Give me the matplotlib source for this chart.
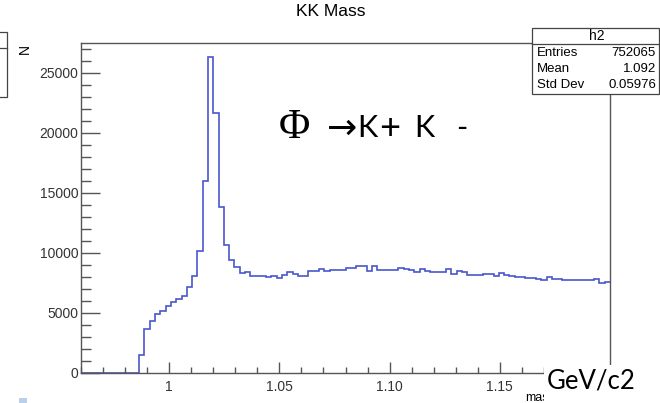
import numpy as np
import matplotlib
matplotlib.use("Agg")
import matplotlib.pyplot as plt
from matplotlib.patches import Rectangle
from matplotlib.ticker import MultipleLocator

# histogram h2: 100 bins between 0.96 and 1.20
x_min, x_max, n_bins = 0.96, 1.20, 100
counts = [0] * 11 + [
    1500, 3650, 4350, 4950, 5150, 5550, 5950, 6150, 6400, 7150,
    8100, 10200, 16000, 26300, 21700, 13800, 10650, 9450, 8850, 8350,
    8400, 8050, 8100,
    8100, 7960, 8050, 7910, 8190, 8380, 8270, 8100, 8100, 8470,
    8470, 8660, 8470, 8550, 8610, 8610, 8750, 8750, 8880, 8880,
    8470, 8880, 8610, 8610, 8550, 8550, 8750, 8660, 8610, 8420,
    8660, 8470, 8420, 8420, 8420, 8660, 8270, 8470, 8380, 8190,
    8190, 8190, 8270, 8270, 8050, 8330, 8190, 8050, 7990, 7990,
    7940, 7910, 7830, 7770, 7990, 7860, 7830, 7770, 7720, 7720,
    7720, 7720, 7720, 7830, 7500, 7550,
]
y_ticks = [0, 5000, 10000, 15000, 20000, 25000]
x_ticks = [1.0, 1.05, 1.10, 1.15]
x_tick_labels = ["1", "1.05", "1.10", "1.15"]
stats_names = ["Entries", "Mean", "Std Dev"]
stats_values = ["752065", "1.092", "0.05976"]

W, H = 660, 403


def fx(x):
    return x / W


def fy(y):
    return 1 - y / H


plt.rcParams["font.family"] = ["Liberation Sans", "DejaVu Sans"]

fig = plt.figure(figsize=(W / 100, H / 100), dpi=100)
ax = fig.add_axes([fx(81), fy(373), fx(610) - fx(81), fy(43) - fy(373)])

edges = np.linspace(x_min, x_max, n_bins + 1)
ax.stairs(counts, edges, baseline=None, color="#4858cc", lw=1.2)

ax.set_xlim(x_min, x_max)
ax.set_ylim(0, 27500)
ax.set_yticks(y_ticks)
ax.set_xticks(x_ticks)
ax.set_xticklabels(x_tick_labels)
ax.yaxis.set_minor_locator(MultipleLocator(1000))
ax.xaxis.set_minor_locator(MultipleLocator(0.01))

axis_col = "#555555"
ax.tick_params(axis="y", which="major", direction="in", length=14, width=1,
               color=axis_col, pad=2, labelsize=10, labelcolor="#333333")
ax.tick_params(axis="y", which="minor", direction="in", length=7, width=1, color=axis_col)
ax.tick_params(axis="x", which="major", direction="in", length=8, width=1,
               color=axis_col, pad=5, labelsize=10, labelcolor="#333333")
ax.tick_params(axis="x", which="minor", direction="in", length=4, width=1, color=axis_col)
for s in ax.spines.values():
    s.set_color(axis_col)
    s.set_linewidth(1)

fig.text(fx(331), fy(12), "KK Mass", ha="center", va="center", fontsize=12.5)
fig.text(fx(25), fy(49), "N", rotation=90, ha="center", va="center", fontsize=10)

# stats box
fig.add_artist(Rectangle((fx(532), fy(94)), fx(659) - fx(532), fy(28) - fy(94),
                         transform=fig.transFigure, fc="white", ec="#444444", lw=0.9))
fig.add_artist(plt.Line2D([fx(532), fx(659)], [fy(44), fy(44)],
                          transform=fig.transFigure, color="#444444", lw=0.9))
fig.text(fx(597), fy(36), "h2", ha="center", va="center", fontsize=10)
for i, (nm, val) in enumerate(zip(stats_names, stats_values)):
    yy = 52.5 + i * 16.3
    fig.text(fx(537), fy(yy), nm, ha="left", va="center", fontsize=9.5)
    fig.text(fx(656), fy(yy), val, ha="right", va="center", fontsize=9.5)

# clipped box at left edge
fig.add_artist(Rectangle((fx(-5), fy(97)), fx(12), fy(32) - fy(97),
                         transform=fig.transFigure, fc="white", ec="#444444", lw=0.9))
fig.add_artist(plt.Line2D([0, fx(7)], [fy(48), fy(48)],
                          transform=fig.transFigure, color="#444444", lw=0.9))
fig.add_artist(Rectangle((fx(19), fy(403)), fx(8), fy(398) - fy(403),
                         transform=fig.transFigure, fc="#b8d0ea", ec="none"))

# annotation Phi -> K+ K-
fig.text(fx(279), fy(138), "\u03a6", ha="left", va="baseline", fontsize=31,
         family=["Liberation Serif", "DejaVu Serif"])
fig.text(fx(327), fy(139), "\u2192", ha="left", va="baseline", fontsize=26,
         family=["DejaVu Sans"])
ann_font = ["Lato", "DejaVu Sans"]
fig.text(fx(357), fy(137), "K", ha="left", va="baseline", fontsize=22, family=ann_font)
fig.text(fx(379), fy(138.5), "+", ha="left", va="baseline", fontsize=26, family=ann_font)
fig.text(fx(414), fy(137), "K", ha="left", va="baseline", fontsize=22, family=ann_font)
fig.text(fx(456), fy(137), "-", ha="left", va="baseline", fontsize=22, family=ann_font)

# x title partly hidden by the unit text box
fig.text(fx(525), fy(398), "mass", ha="left", va="center", fontsize=9, zorder=0.5)
fig.add_artist(Rectangle((fx(544), 0), fx(660 - 544), fy(365),
                         transform=fig.transFigure, fc="white", ec="none", zorder=1))
fig.text(fx(547), fy(381), "GeV/c2", ha="left", va="center", fontsize=18.5,
         family=["Lato", "DejaVu Sans"], zorder=2)

fig.savefig("out.png", dpi=100)
